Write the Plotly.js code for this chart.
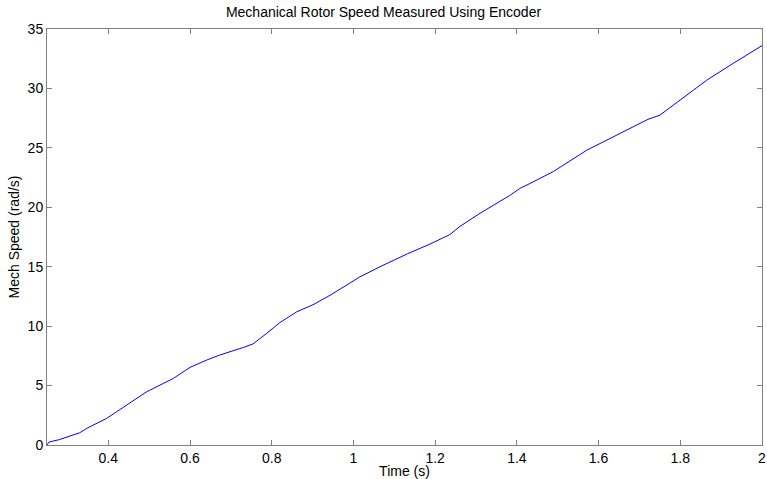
<!DOCTYPE html>
<html>
<head>
<meta charset="utf-8">
<script src="https://cdn.plot.ly/plotly-3.0.1.min.js"></script>
<style>html,body{margin:0;padding:0;background:#fff;}#chart{width:767px;height:479px;}</style>
</head>
<body>
<div id="chart"></div>
<script>
const timeS = [0.25, 0.255, 0.28, 0.33, 0.35, 0.396, 0.445, 0.494, 0.559, 0.60, 0.641, 0.673, 0.73, 0.754, 0.788, 0.82, 0.861, 0.901, 0.943, 1.016, 1.065, 1.133, 1.187, 1.236, 1.261, 1.31, 1.383, 1.408, 1.432, 1.489, 1.571, 1.652, 1.70, 1.721, 1.75, 1.799, 1.865, 1.929, 2.0];
const speed = [0.0, 0.25, 0.45, 1.03, 1.45, 2.24, 3.36, 4.48, 5.6, 6.53, 7.15, 7.57, 8.2, 8.5, 9.4, 10.3, 11.2, 11.8, 12.6, 14.15, 15.0, 16.1, 16.9, 17.7, 18.4, 19.5, 21.0, 21.6, 22.0, 23.0, 24.8, 26.2, 27.05, 27.4, 27.75, 29.0, 30.7, 32.1, 33.6];

const font = {family: 'Liberation Sans, Arial, sans-serif', size: 14, color: '#000'};
const axisCommon = {
  showgrid: false, zeroline: false, showline: true, linecolor: '#808080', linewidth: 1,
  mirror: 'ticks', ticks: 'inside', ticklen: 5, tickcolor: '#808080', tickwidth: 1,
  tickfont: font
};
Plotly.newPlot('chart', [{
  x: timeS, y: speed, type: 'scatter', mode: 'lines',
  line: {color: '#0000ff', width: 1}
}], {
  width: 767, height: 479,
  margin: {l: 47, r: 5, t: 29, b: 34},
  paper_bgcolor: '#fff', plot_bgcolor: '#fff',
  font: font,
  showlegend: false,
  title: {text: 'Mechanical Rotor Speed Measured Using Encoder', font: font, x: 0.5, xanchor: 'center', y: 0.975, yref: 'container', yanchor: 'middle'},
  xaxis: Object.assign({}, axisCommon, {range: [0.25, 2], tick0: 0, dtick: 0.2, title: {text: 'Time (s)', font: font, standoff: 0}}),
  yaxis: Object.assign({}, axisCommon, {range: [0, 35], tick0: 0, dtick: 5, title: {text: 'Mech Speed (rad/s)', font: font, standoff: 4}})
}, {displayModeBar: false, staticPlot: true});
</script>
</body>
</html>
